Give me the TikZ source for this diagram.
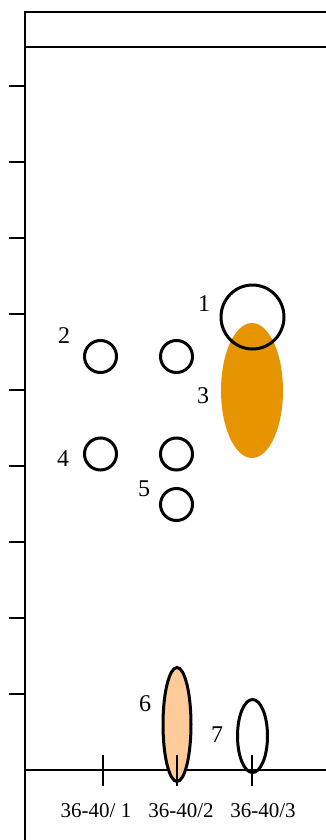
\documentclass[tikz,border=0pt]{standalone}
\usepackage{fontspec}
\setmainfont{Liberation Serif}
\usetikzlibrary{shapes.geometric}
\definecolor{darkorange}{RGB}{230,149,0}
\definecolor{lightorange}{RGB}{255,204,153}
\begin{document}
\begin{tikzpicture}[x=1pt,y=-1pt,
  axis/.style={line width=2pt},
  tickmark/.style={line width=1.8pt},
  ring/.style={ellipse,draw,line width=3pt,inner sep=0pt},
  blob/.style={ellipse,inner sep=0pt},
  numlab/.style={font=\fontsize{24}{28}\selectfont,inner sep=0pt},
  collab/.style={font=\fontsize{21}{25}\selectfont,inner sep=0pt}]
\useasboundingbox (0,0) rectangle (326,840);
% frame
\coordinate (tl) at (25,12);
\coordinate (tr) at (326,12);
\coordinate (hl) at (25,47);
\coordinate (hr) at (326,47);
\coordinate (bl) at (25,840);
\coordinate (al) at (25,770);
\coordinate (ar) at (326,770);
\draw[axis] (tr) -- (tl) -- (bl);
\draw[axis] (hl) -- (hr);
\draw[line width=1.6pt] (al) -- (ar);
% left ticks
\foreach \y in {86,162,238,314,390,466,542,618,694}
  \draw[tickmark] (9,\y) -- (25,\y);
% shapes
\node[blob,fill=darkorange,minimum width=62,minimum height=135] (e3) at (252,390.5) {};
\node[ring,minimum width=63,minimum height=64] (c1) at (252.5,317) {};
\node[ring,minimum width=32,minimum height=32] (c2a) at (100.5,356.5) {};
\node[ring,minimum width=32,minimum height=32] (c2b) at (176.5,356.5) {};
\node[ring,minimum width=32,minimum height=32] (c4a) at (100.5,454) {};
\node[ring,minimum width=32,minimum height=32] (c4b) at (176.5,454) {};
\node[ring,minimum width=32,minimum height=32] (c5) at (176.5,504.5) {};
\node[ring,fill=lightorange,minimum width=28,minimum height=114] (e6) at (177,724.5) {};
\node[ring,minimum width=30,minimum height=73] (e7) at (252.5,736) {};
% column ticks
\foreach \x in {103,177,252}
  \draw[tickmark] (\x,755) -- (\x,786);
% labels
\node[numlab] (l1) at (204,304) {1};
\node[numlab] (l2) at (64,336) {2};
\node[numlab] (l3) at (203,396) {3};
\node[numlab] (l4) at (63,459) {4};
\node[numlab] (l5) at (144,489) {5};
\node[numlab] (l6) at (145,704) {6};
\node[numlab] (l7) at (217,735) {7};
\node[collab] (x1) at (96,811) {36-40/ 1};
\node[collab] (x2) at (181,811) {36-40/2};
\node[collab] (x3) at (263,811) {36-40/3};
\end{tikzpicture}
\end{document}
